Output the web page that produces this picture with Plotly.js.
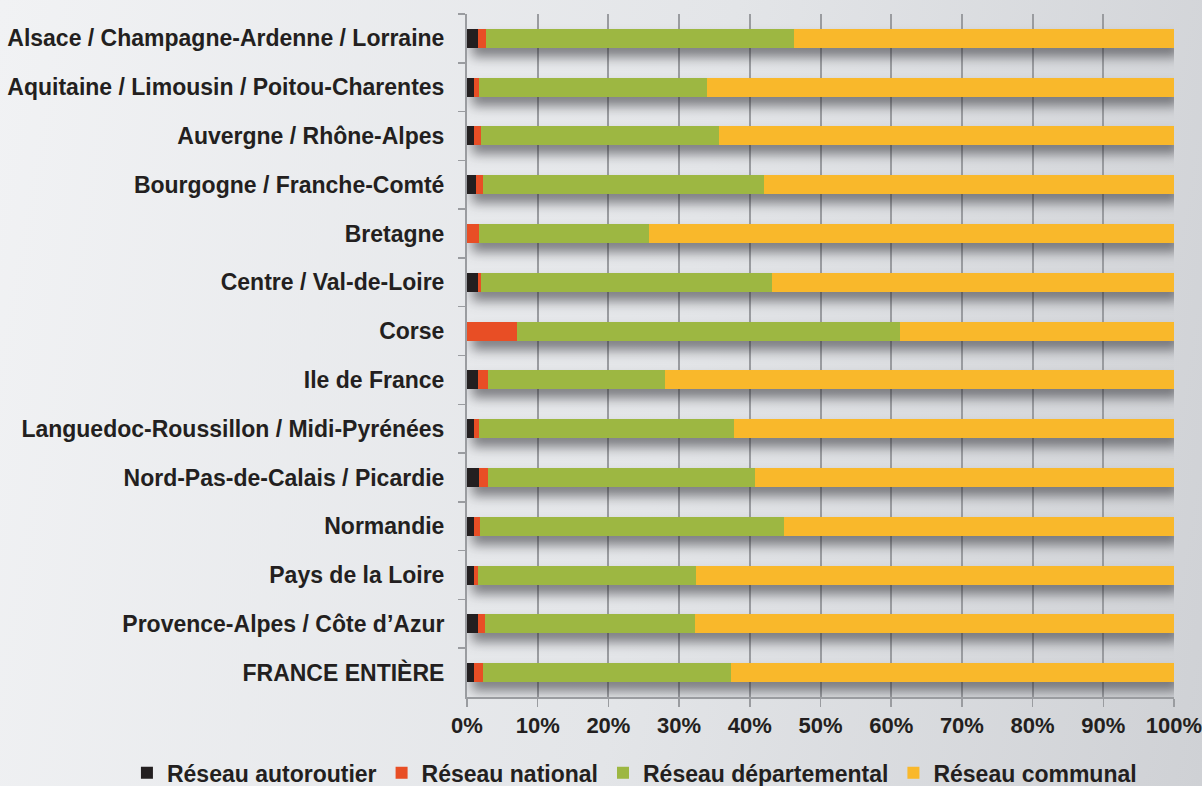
<!DOCTYPE html>
<html>
<head>
<meta charset="utf-8">
<script src="https://cdn.plot.ly/plotly-3.0.1.min.js"></script>
<style>
  html, body { margin:0; padding:0; width:1202px; height:786px; overflow:hidden;
    background: linear-gradient(100deg, #f1f2f4 0%, #e3e5e8 55%, #cfd1d5 100%); }
  #chart { width:1202px; height:786px; }
  .barlayer { filter: drop-shadow(5px 9px 6px rgba(40,40,45,0.55)); }
</style>
</head>
<body>
<div id="chart"></div>
<script>
const categories = [
  "Alsace / Champagne-Ardenne / Lorraine",
  "Aquitaine / Limousin / Poitou-Charentes",
  "Auvergne / Rhône-Alpes",
  "Bourgogne / Franche-Comté",
  "Bretagne",
  "Centre / Val-de-Loire",
  "Corse",
  "Ile de France",
  "Languedoc-Roussillon / Midi-Pyrénées",
  "Nord-Pas-de-Calais / Picardie",
  "Normandie",
  "Pays de la Loire",
  "Provence-Alpes / Côte d’Azur",
  "FRANCE ENTIÈRE"
];
const autoroutier   = [1.6, 1.0, 1.0, 1.3, 0.0, 1.5, 0.0, 1.6, 1.0, 1.7, 1.0, 1.0, 1.6, 1.0];
const national      = [1.1, 0.7, 1.0, 1.0, 1.7, 0.5, 7.1, 1.4, 0.7, 1.2, 0.9, 0.6, 0.9, 1.2];
const departemental = [43.5, 32.3, 33.7, 39.7, 24.1, 41.2, 54.2, 25.0, 36.0, 37.9, 43.0, 30.8, 29.8, 35.2];
const communal      = [53.8, 66.0, 64.3, 58.0, 74.2, 56.8, 38.7, 72.0, 62.3, 59.2, 55.1, 67.6, 67.7, 62.6];
const seriesNames = ["Réseau autoroutier", "Réseau national", "Réseau départemental", "Réseau communal"];
const tickVals = [0, 10, 20, 30, 40, 50, 60, 70, 80, 90, 100];
const tickText = ["0%", "10%", "20%", "30%", "40%", "50%", "60%", "70%", "80%", "90%", "100%"];

const colors = ["#231f20", "#e84e25", "#9db742", "#f9b82b"];
const seriesData = [autoroutier, national, departemental, communal];
const FONT = '"Liberation Sans", Arial, sans-serif';

const traces = seriesData.map((vals, i) => ({
  type: 'bar',
  orientation: 'h',
  name: seriesNames[i],
  x: vals,
  y: categories,
  marker: { color: colors[i], line: { width: 0 } },
  hoverinfo: 'x+y+name'
}));

const layout = {
  width: 1202, height: 786,
  margin: { l: 467, r: 28, t: 14, b: 89, pad: 0, autoexpand: false },
  paper_bgcolor: 'rgba(0,0,0,0)',
  plot_bgcolor: 'rgba(0,0,0,0)',
  barmode: 'stack',
  bargap: 0.61,
  font: { family: FONT, color: '#231f20', size: 20, weight: 'bold' },
  xaxis: {
    range: [0, 100],
    tickvals: tickVals,
    ticktext: tickText,
    showgrid: true,
    gridcolor: '#9a9ca0',
    gridwidth: 2,
    zeroline: false,
    showline: true,
    linecolor: '#9a9ca0',
    linewidth: 2,
    ticks: 'outside',
    ticklen: 8,
    tickwidth: 1.5,
    tickcolor: '#9a9ca0',
    ticklabelstandoff: 0,
    ticklabeloverflow: 'allow',
    tickfont: { family: FONT, size: 22, color: '#231f20', weight: 'bold' },
    fixedrange: true
  },
  yaxis: {
    type: 'category',
    autorange: 'reversed',
    showgrid: false,
    showline: true,
    linecolor: '#9a9ca0',
    linewidth: 2,
    ticks: 'outside',
    tickson: 'boundaries',
    ticklen: 7,
    tickwidth: 1.5,
    tickcolor: '#9a9ca0',
    ticklabelstandoff: 16,
    tickfont: { family: FONT, size: 23, color: '#231f20', weight: 'bold' },
    fixedrange: true
  },
  showlegend: true,
  legend: {
    orientation: 'h',
    x: -0.481, xanchor: 'left',
    y: -0.111, yanchor: 'middle',
    traceorder: 'normal',
    font: { family: FONT, size: 23, color: '#231f20', weight: 'bold' },
    bgcolor: 'rgba(0,0,0,0)',
    itemwidth: 30,
    tracegroupgap: 0
  }
};

Plotly.newPlot('chart', traces, layout, { displayModeBar: false, staticPlot: true });
</script>
</body>
</html>
